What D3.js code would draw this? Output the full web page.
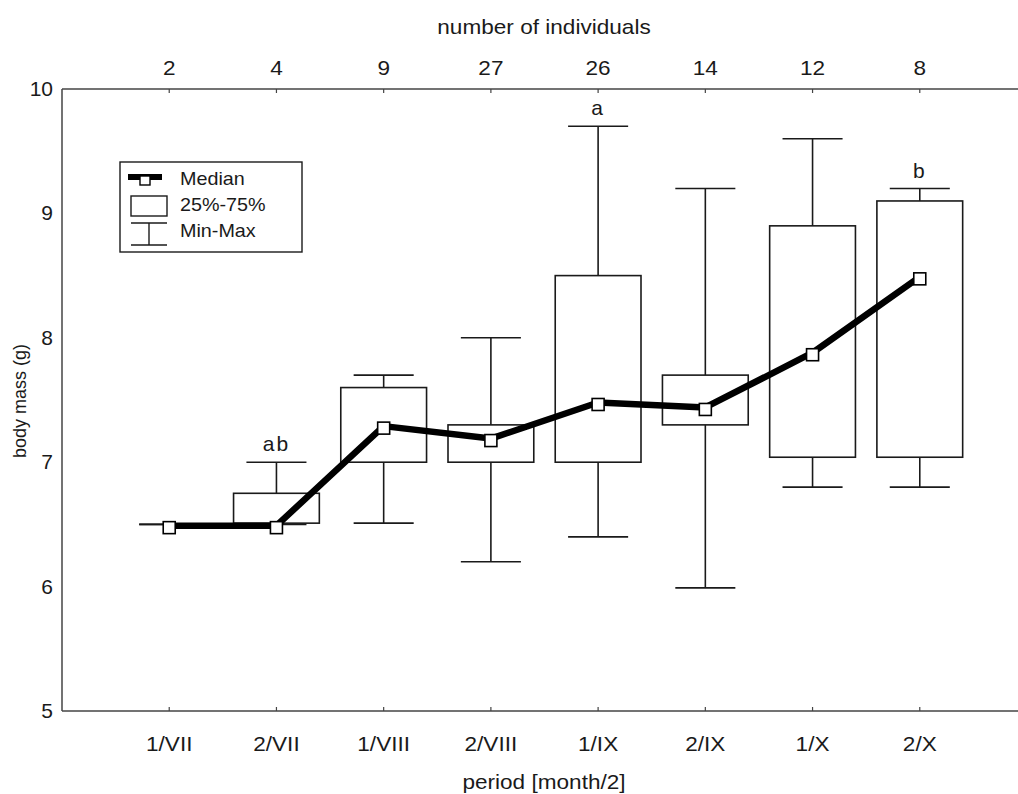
<!DOCTYPE html>
<html><head><meta charset="utf-8">
<script src="https://cdn.jsdelivr.net/npm/d3@7/dist/d3.min.js"></script>
<style>body{margin:0;background:#fff}svg{font-family:"Liberation Sans",Arial,sans-serif}</style>
</head><body><svg id="c" width="1018" height="794"></svg>
<script>
const periods = ["1/VII","2/VII","1/VIII","2/VIII","1/IX","2/IX","1/X","2/X"];
const counts = [2,4,9,27,26,14,12,8];
const medians = [6.49,6.49,7.29,7.19,7.48,7.44,7.88,8.49];
const q25 = [6.5,6.51,7.0,7.0,7.0,7.3,7.04,7.04];
const q75 = [6.5,6.75,7.6,7.3,8.5,7.7,8.9,9.1];
const mins = [6.5,6.5,6.51,6.2,6.4,5.99,6.8,6.8];
const maxs = [6.5,7.0,7.7,8.0,9.7,9.2,9.6,9.2];
const letters = ["","ab","","","a","","","b"];
const yTicks = [5,6,7,8,9,10];

const svg = d3.select("#c");
const L=62, R=1027, T=89, B=711;
const x = d3.scalePoint().domain(periods).range([L,R]).padding(1);
const step = x.step();
const y = d3.scaleLinear().domain([5,10]).range([B,T]);
const ink="#1a1a1a", axisC="#444";
const SX = 1.13, FS = 20;

function txt(parent, tx, ty, s, opts={}){
  const sx = opts.sx ?? SX;
  return parent.append("text")
    .attr("transform",`translate(${tx},${ty}) scale(${sx},1)`)
    .attr("text-anchor",opts.anchor||"middle").attr("font-size",opts.fs||FS).attr("fill",ink)
    .attr("letter-spacing",opts.ls||0).text(s);
}

// frame lines
svg.append("line").attr("x1",L).attr("x2",R+10).attr("y1",T).attr("y2",T).attr("stroke",axisC).attr("stroke-width",1.5);
svg.append("line").attr("x1",L).attr("x2",R+10).attr("y1",B).attr("y2",B).attr("stroke",axisC).attr("stroke-width",1.5);
svg.append("line").attr("x1",L).attr("x2",L).attr("y1",T).attr("y2",B).attr("stroke",axisC).attr("stroke-width",1.5);

// ticks & labels
periods.forEach((p,i)=>{
  svg.append("line").attr("x1",x(p)).attr("x2",x(p)).attr("y1",B).attr("y2",B-4).attr("stroke",axisC).attr("stroke-width",1.2);
  svg.append("line").attr("x1",x(p)).attr("x2",x(p)).attr("y1",T).attr("y2",T+4).attr("stroke",axisC).attr("stroke-width",1.2);
  txt(svg, x(p), 751, p);
  txt(svg, x(p), 75, String(counts[i]));
});
yTicks.forEach(v=> txt(svg, 53, y(v)+7, String(v), {anchor:"end", sx:1.05}));
// titles
txt(svg, 544, 34, "number of individuals");
txt(svg, 544, 789, "period [month/2]");
svg.append("text").attr("transform",`translate(26,401) rotate(-90)`).attr("text-anchor","middle").attr("font-size",18).attr("fill",ink).text("body mass (g)");

const bw = step*0.8, cw = step*0.56;
const g = svg.append("g").attr("stroke",ink).attr("stroke-width",1.6).attr("fill","none");
periods.forEach((p,i)=>{
  const cx = x(p);
  g.append("line").attr("x1",cx).attr("x2",cx).attr("y1",y(q75[i])).attr("y2",y(maxs[i]));
  g.append("line").attr("x1",cx).attr("x2",cx).attr("y1",y(q25[i])).attr("y2",y(mins[i]));
  g.append("line").attr("x1",cx-cw/2).attr("x2",cx+cw/2).attr("y1",y(maxs[i])).attr("y2",y(maxs[i]));
  g.append("line").attr("x1",cx-cw/2).attr("x2",cx+cw/2).attr("y1",y(mins[i])).attr("y2",y(mins[i]));
  g.append("rect").attr("x",cx-bw/2).attr("width",bw).attr("y",y(q75[i])).attr("height",Math.max(0,y(q25[i])-y(q75[i])));
  if(letters[i]) txt(svg, cx, y(maxs[i])-11, letters[i], {ls:2, sx:1.05});
});

// median line
const line = d3.line().x((d,i)=>x(periods[i])).y(d=>y(d));
svg.append("path").datum(medians).attr("d",line).attr("fill","none").attr("stroke","#000").attr("stroke-width",6.5).attr("stroke-linejoin","round");
svg.append("g").selectAll("rect").data(medians).join("rect")
  .attr("x",(d,i)=>x(periods[i])-6).attr("y",d=>y(d)-4).attr("width",12).attr("height",12)
  .attr("fill","#fff").attr("stroke","#000").attr("stroke-width",1.6);

// legend
const lg = svg.append("g");
lg.append("rect").attr("x",120).attr("y",162).attr("width",182).attr("height",90).attr("fill","#fff").attr("stroke",ink).attr("stroke-width",1.4);
lg.append("line").attr("x1",128).attr("x2",162).attr("y1",177).attr("y2",177).attr("stroke","#000").attr("stroke-width",6);
lg.append("rect").attr("x",140).attr("y",176).attr("width",10).attr("height",9).attr("fill","#fff").attr("stroke","#000").attr("stroke-width",1.4);
lg.append("rect").attr("x",131).attr("y",196).attr("width",36).attr("height",20).attr("fill","#fff").attr("stroke",ink).attr("stroke-width",1.4);
lg.append("line").attr("x1",131).attr("x2",167).attr("y1",223).attr("y2",223).attr("stroke",ink).attr("stroke-width",1.4);
lg.append("line").attr("x1",131).attr("x2",167).attr("y1",245).attr("y2",245).attr("stroke",ink).attr("stroke-width",1.4);
lg.append("line").attr("x1",149).attr("x2",149).attr("y1",223).attr("y2",245).attr("stroke",ink).attr("stroke-width",1.4);
["Median","25%-75%","Min-Max"].forEach((s,i)=> txt(lg, 180, 185+i*26, s, {anchor:"start", fs:19, sx:1.04}));
</script></body></html>
